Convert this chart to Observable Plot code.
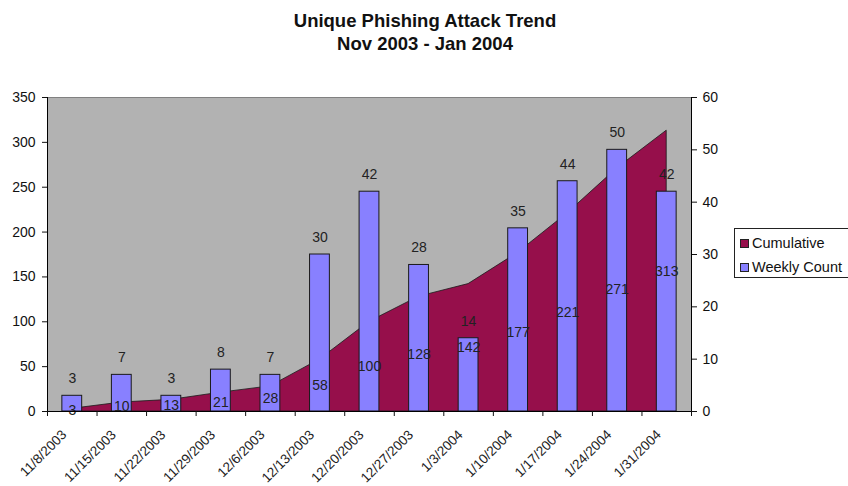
<!DOCTYPE html>
<html>
<head>
<meta charset="utf-8">
<script src="https://cdn.jsdelivr.net/npm/d3@7"></script>
<script src="https://cdn.jsdelivr.net/npm/@observablehq/plot@0.6"></script>
<style>
  html, body { margin: 0; padding: 0; background: #fff; overflow: hidden; }
  #wrap { position: relative; width: 848px; height: 486px; font-family: "Liberation Sans", Arial, sans-serif; }
  #title { position: absolute; left: 0; top: 9px; width: 850px; text-align: center; font-weight: bold; font-size: 18.5px; line-height: 23px; color: #111; }
  #legend { position: absolute; left: 734px; top: 228px; width: 125px; height: 50px; border: 1px solid #222; box-sizing: border-box; background: #fff; font-size: 14.5px; color: #111; }
  .item { position: absolute; left: 5px; height: 16px; line-height: 16px; white-space: nowrap; }
  .sw { display: inline-block; width: 7px; height: 7px; border: 1px solid #222; margin-right: 3px; vertical-align: 0px; }
  #chart { position: absolute; left: 0; top: 0; }
</style>
</head>
<body>
<div id="wrap">
  <div id="chart"></div>
  <div id="title">Unique Phishing Attack Trend<br>Nov 2003 - Jan 2004</div>
  <div id="legend"></div>
</div>
<script>
const dates = ["11/8/2003","11/15/2003","11/22/2003","11/29/2003","12/6/2003","12/13/2003","12/20/2003","12/27/2003","1/3/2004","1/10/2004","1/17/2004","1/24/2004","1/31/2004"];
const cumulative = [3,10,13,21,28,58,100,128,142,177,221,271,313];
const weekly = [3,7,3,8,7,30,42,28,14,35,44,50,42];
const leftTicks = [0,50,100,150,200,250,300,350];
const rightTicks = [0,10,20,30,40,50,60];
const seriesNames = ["Cumulative","Weekly Count"];
const seriesColors = ["#960F4B","#8880FF"];

const leftMax = 350, rightMax = 60;
const toLeft = v => v * leftMax / rightMax;
const rows = dates.map((date, i) => ({i, date, cum: cumulative[i], week: weekly[i]}));
const bounds = d3.range(-0.5, dates.length, 1);

const plot = Plot.plot({
  width: 848,
  height: 486,
  marginTop: 97,
  marginBottom: 75,
  marginLeft: 47,
  marginRight: 157,
  style: {fontFamily: "Liberation Sans, Arial, sans-serif", fontSize: "14px", color: "#111", background: "transparent", overflow: "visible"},
  x: {type: "linear", domain: [-0.5, dates.length - 0.5]},
  y: {type: "linear", domain: [0, leftMax]},
  marks: [
    Plot.frame({fill: "#B2B2B2", stroke: "#808080"}),
    Plot.areaY(rows, {x: "i", y: "cum", fill: seriesColors[0], stroke: "#1a1a1a", strokeWidth: 0.8}),
    Plot.rectY(rows, {x1: d => d.i - 0.2, x2: d => d.i + 0.2, y: d => toLeft(d.week), fill: seriesColors[1], stroke: "#1a1a1a", strokeWidth: 1}),
    Plot.text(rows, {x: "i", y: d => d.cum / 2, text: d => String(d.cum), fontSize: 14, fill: "#222"}),
    Plot.text(rows, {x: "i", y: d => toLeft(d.week), dy: -17, text: d => String(d.week), fontSize: 14, fill: "#222"}),
    Plot.ruleY([0], {stroke: "#000"}),
    Plot.ruleX([-0.5, dates.length - 0.5], {stroke: "#000"}),
    Plot.axisY(leftTicks, {anchor: "left", tickSize: 5, tickPadding: 7, label: null, fontSize: 14}),
    Plot.axisY(rightTicks.map(toLeft), {anchor: "right", tickSize: 5, tickPadding: 6, label: null, fontSize: 14, tickFormat: v => String(Math.round(v * rightMax / leftMax))}),
    Plot.axisX(bounds, {tickSize: 5, tickFormat: () => "", label: null}),
    Plot.text(rows, {x: "i", frameAnchor: "bottom", text: "date", rotate: -45, textAnchor: "end", lineAnchor: "middle", dx: -8, dy: 21, fontSize: 13.5, fill: "#222"})
  ]
});
document.getElementById("chart").appendChild(plot);

const legend = document.getElementById("legend");
seriesNames.forEach((name, k) => {
  const it = document.createElement("div");
  it.className = "item";
  it.style.top = (6 + k * 24) + "px";
  const sw = document.createElement("span");
  sw.className = "sw";
  sw.style.background = seriesColors[k];
  it.appendChild(sw);
  it.appendChild(document.createTextNode(name));
  legend.appendChild(it);
});
</script>
</body>
</html>
